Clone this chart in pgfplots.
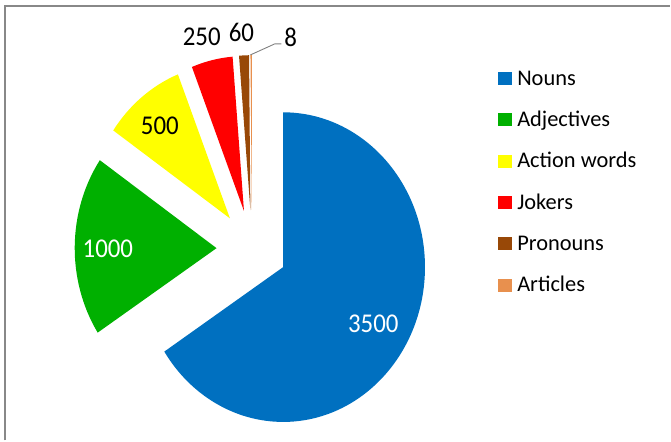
\documentclass[border=0pt]{standalone}
\usepackage{fontspec}
\setmainfont{Carlito}
\usepackage{pgfplots}
\usepackage{pgfplotstable}
\pgfplotsset{compat=1.18}

\definecolor{pc0}{HTML}{0070C0}
\definecolor{pc1}{HTML}{00B000}
\definecolor{pc2}{HTML}{FFFF00}
\definecolor{pc3}{HTML}{FF0000}
\definecolor{pc4}{HTML}{984807}
\definecolor{pc5}{HTML}{E8904E}
\definecolor{framegray}{HTML}{888888}
\definecolor{leadergray}{HTML}{808080}

\tikzset{labl/.style={font=\fontsize{25}{30}\selectfont, inner sep=0pt, yscale=1.09}}

% Nouns, Adjectives, Action words, Jokers, Pronouns, Articles
\pgfplotstableread{
value
3500
1000
500
250
60
8
}\piedata

% pie geometry (pixel units)
\def\cx{252.3}\def\cy{192}\def\rx{142}\def\ry{155}\def\expl{0.25}

\pgfmathsetmacro\total{0}
\pgfplotsforeachungrouped \i in {0,...,5}{%
  \pgfplotstablegetelem{\i}{value}\of\piedata
  \pgfmathsetmacro\total{\total+\pgfplotsretval}%
}
\def\cum{0}
\pgfplotsforeachungrouped \i in {0,...,5}{%
  \pgfplotstablegetelem{\i}{value}\of\piedata
  \pgfmathsetmacro\sA{90-360*(\cum/\total)}%
  \pgfmathsetmacro\cum{\cum+\pgfplotsretval}%
  \pgfmathsetmacro\eA{90-360*(\cum/\total)}%
  \pgfmathsetmacro\mA{(\sA+\eA)/2}%
  \pgfmathsetmacro\vX{\cx+\expl*\rx*cos(\mA)}%
  \pgfmathsetmacro\vY{\cy+\expl*\ry*sin(\mA)}%
  \pgfmathsetmacro\oX{\vX+\rx*cos(\sA)}%
  \pgfmathsetmacro\oY{\vY+\ry*sin(\sA)}%
  \expandafter\xdef\csname sa\i\endcsname{\sA}%
  \expandafter\xdef\csname ea\i\endcsname{\eA}%
  \expandafter\xdef\csname vx\i\endcsname{\vX}%
  \expandafter\xdef\csname vy\i\endcsname{\vY}%
  \expandafter\xdef\csname ox\i\endcsname{\oX}%
  \expandafter\xdef\csname oy\i\endcsname{\oY}%
}

\begin{document}
\begin{tikzpicture}
\begin{axis}[
  x=1bp, y=1bp, xmin=0, xmax=671, ymin=0, ymax=441,
  hide axis, clip=false,
  legend image code/.code={\fill[#1] (0bp,-6bp) rectangle (12.5bp,6bp);},
  legend style={
    at={(0.7437,0.8497)}, anchor=north west,
    draw=none, fill=none, inner sep=0pt, outer sep=0pt,
    row sep=17.4bp, column sep=6bp,
    font=\fontsize{22.5}{27}\selectfont,
    nodes={inner sep=0pt, text height=19bp, text depth=5bp},
    cells={anchor=west},
  },
]
\path (axis cs:0,0) rectangle (axis cs:671,441);
\draw[framegray, line width=1.7bp] (axis cs:4.8,0) -- (axis cs:4.8,435.2) -- (axis cs:671,435.2);

\pgfplotsinvokeforeach{0,...,5}{%
  \fill[pc#1] (axis cs:\csname vx#1\endcsname,\csname vy#1\endcsname)
    -- (axis cs:\csname ox#1\endcsname,\csname oy#1\endcsname)
    arc[start angle=\csname sa#1\endcsname, end angle=\csname ea#1\endcsname,
        x radius=142bp, y radius=155bp] -- cycle;
}

\draw[leadergray, line width=0.9bp] (axis cs:250.7,386) -- (axis cs:275,397) -- (axis cs:281.7,397);

\node[labl, text=white] at (axis cs:373.8,116.5) {3500};
\node[labl, text=white] at (axis cs:108,192) {1000};
\node[labl] at (axis cs:160,315.2) {500};
\node[labl] at (axis cs:202,404) {250};
\node[labl] at (axis cs:241.7,408.5) {60};
\node[labl] at (axis cs:291,404) {8};

\addlegendimage{pc0}\addlegendentry{Nouns}
\addlegendimage{pc1}\addlegendentry{Adjectives}
\addlegendimage{pc2}\addlegendentry{Action words}
\addlegendimage{pc3}\addlegendentry{Jokers}
\addlegendimage{pc4}\addlegendentry{Pronouns}
\addlegendimage{pc5}\addlegendentry{Articles}
\end{axis}
\end{tikzpicture}
\end{document}
